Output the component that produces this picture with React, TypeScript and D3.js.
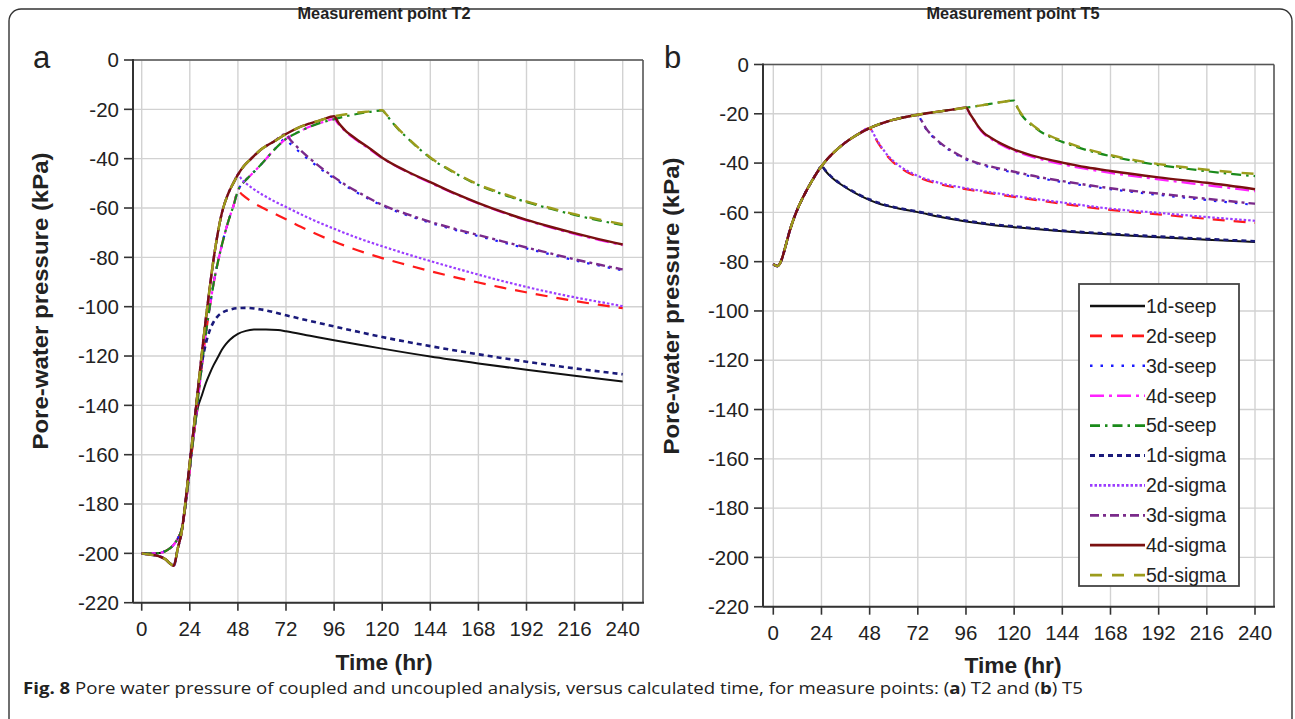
import React from "react";
import * as d3 from "d3";

type Pt = [number, number];

// ---------- axis ticks ----------
const X_TICKS = [0, 24, 48, 72, 96, 120, 144, 168, 192, 216, 240];
const Y_TICKS = [0, -20, -40, -60, -80, -100, -120, -140, -160, -180, -200, -220];

// ---------- T2 (panel a) ----------
const t2SeepRise: Pt[] = [[0,-200],[4,-200],[8,-200],[12,-199],[14,-198],[16,-196.5],[18,-194],[20,-190],[22,-180],[24,-166],[26,-152],[28,-138],[30,-124],[32,-111],[34,-100],[36,-90],[38,-82],[40,-75],[43,-66],[46,-58.5],[48,-53],[51,-49.5],[54,-47],[60,-42],[66,-36.5],[72,-32],[78,-29.3],[84,-27],[90,-25.3],[96,-24],[102,-22.8],[108,-21.8],[114,-21],[120,-20.4]];
const t2SigmaRise: Pt[] = [[0,-200],[4,-200.5],[8,-201],[12,-202.5],[14,-204],[16,-205],[18,-198],[20,-191],[22,-178],[24,-163],[26,-149],[28,-134],[30,-119],[32,-105],[34,-92],[36,-80],[38,-70],[40,-62],[43,-54.5],[46,-49.5],[48,-46.5],[51,-43],[54,-40.5],[60,-36],[66,-33],[72,-30],[78,-27.5],[84,-25.7],[90,-24.2],[96,-22.8],[102,-22],[108,-21.3],[114,-20.8],[120,-20.3]];
const t2Seep1d: Pt[] = [[28,-141],[30,-136],[32,-131],[34,-127],[36,-123.5],[38,-120.5],[40,-117.5],[42,-115.2],[44,-113.4],[48,-111],[52,-109.8],[56,-109.3],[62,-109.2],[68,-109.5],[72,-110],[84,-111.8],[96,-113.6],[108,-115.3],[120,-117],[144,-120.2],[168,-123],[192,-125.6],[216,-128],[240,-130.3]];
const t2Sigma1d: Pt[] = [[28,-134],[30,-123],[32,-115],[34,-109.5],[36,-106],[38,-103.8],[40,-102.5],[44,-101.2],[48,-100.6],[52,-100.5],[60,-101.2],[72,-103.5],[84,-105.8],[96,-108],[108,-110.2],[120,-112.3],[144,-116],[168,-119.3],[192,-122.3],[216,-125],[240,-127.4]];
const t2Seep2d: Pt[] = [[50,-54.5],[54,-57],[60,-59.8],[66,-62.2],[72,-64.6],[84,-69.4],[96,-73.6],[108,-77.2],[120,-80.3],[132,-83],[144,-85.6],[156,-88],[168,-90.2],[180,-92.3],[192,-94.2],[204,-96],[216,-97.7],[228,-99.2],[240,-100.6]];
const t2Sigma2d: Pt[] = [[50,-48.5],[54,-51.2],[60,-54.5],[66,-57.2],[72,-59.6],[84,-64.3],[96,-68.4],[108,-72.2],[120,-75.5],[132,-78.6],[144,-81.5],[156,-84.3],[168,-87],[180,-89.6],[192,-92],[204,-94.2],[216,-96.2],[228,-98],[240,-99.8]];
const t2Seep3d: Pt[] = [[74,-33.8],[78,-36.8],[84,-40.8],[90,-44.6],[96,-48],[102,-51.2],[108,-54],[120,-59],[132,-62.8],[144,-66],[156,-68.8],[168,-71.4],[180,-73.9],[192,-76.4],[204,-78.8],[216,-81.2],[228,-83.3],[240,-85.3]];
const t2Sigma3d: Pt[] = [[74,-32.2],[78,-35.6],[84,-40],[90,-44],[96,-47.5],[102,-50.8],[108,-53.6],[120,-58.7],[132,-62.4],[144,-65.6],[156,-68.4],[168,-71],[180,-73.5],[192,-76],[204,-78.4],[216,-80.8],[228,-82.9],[240,-84.9]];
const t2Seep4d: Pt[] = [[98,-25.8],[100,-27.6],[102,-29.2],[105,-31.2],[108,-33],[114,-36.3],[120,-39.8],[132,-45.2],[144,-49.8],[156,-54.2],[168,-58.2],[180,-61.8],[192,-65],[204,-67.9],[216,-70.5],[228,-72.9],[240,-75.1]];
const t2Sigma4d: Pt[] = [[98,-25.2],[100,-27.2],[102,-28.9],[105,-30.8],[108,-32.6],[114,-36],[120,-39.6],[132,-45],[144,-49.5],[156,-54],[168,-58],[180,-61.6],[192,-64.8],[204,-67.6],[216,-70.2],[228,-72.6],[240,-74.8]];
const t2Seep5d: Pt[] = [[122,-22.2],[124,-24.2],[127,-27.2],[132,-31.2],[138,-35.7],[144,-39.7],[156,-45.7],[168,-50.7],[180,-54.4],[192,-57.6],[204,-60.3],[216,-62.8],[228,-65],[240,-67]];
const t2Sigma5d: Pt[] = [[122,-22],[124,-24],[127,-27],[132,-31],[138,-35.5],[144,-39.5],[156,-45.5],[168,-50.5],[180,-54.1],[192,-57.3],[204,-60],[216,-62.5],[228,-64.6],[240,-66.6]];

// ---------- T5 (panel b) ----------
const t5Rise: Pt[] = [[0,-81],[2,-81.8],[4,-79.5],[6,-74],[8,-68],[10,-63],[12,-58.8],[14,-55.2],[16,-52],[18,-49],[20,-46.2],[22,-43.6],[24,-41.3],[27,-38.3],[30,-35.8],[36,-31.6],[42,-28.4],[48,-25.8],[54,-23.9],[60,-22.4],[66,-21.3],[72,-20.4],[78,-19.6],[84,-18.9],[90,-18.2],[96,-17.5],[102,-16.8],[108,-16],[114,-15.2],[120,-14.6]];
const t5Seep1d: Pt[] = [[26,-43.2],[28,-45],[30,-46.5],[33,-48.3],[36,-49.9],[42,-52.7],[48,-55],[54,-56.8],[60,-58],[72,-59.9],[84,-62],[96,-63.7],[108,-65],[120,-66],[144,-67.7],[168,-69],[192,-70.1],[216,-71.1],[240,-72]];
const t5Sigma1d: Pt[] = [[26,-43],[28,-44.8],[30,-46.3],[33,-48.1],[36,-49.7],[42,-52.5],[48,-54.8],[54,-56.5],[60,-57.8],[72,-59.7],[84,-61.7],[96,-63.4],[108,-64.7],[120,-65.7],[144,-67.4],[168,-68.7],[192,-69.8],[216,-70.8],[240,-71.7]];
const t5Seep2d: Pt[] = [[50,-28.5],[52,-31.5],[54,-34],[57,-37.3],[60,-39.8],[66,-43.3],[72,-45.7],[84,-48.8],[96,-50.6],[108,-52.2],[120,-53.7],[144,-56.5],[168,-59],[192,-60.8],[216,-62.6],[240,-64.3]];
const t5Sigma2d: Pt[] = [[50,-28.2],[52,-31.2],[54,-33.6],[57,-36.9],[60,-39.3],[66,-42.8],[72,-45.2],[84,-48.3],[96,-50.2],[108,-51.8],[120,-53.3],[144,-56],[168,-58.5],[192,-60.2],[216,-61.9],[240,-63.4]];
const t5Seep3d: Pt[] = [[74,-23.2],[76,-26],[80,-29.8],[84,-32.6],[90,-35.9],[96,-38.5],[102,-40.3],[108,-41.7],[120,-43.9],[132,-46],[144,-47.7],[168,-50.6],[192,-52.9],[216,-55],[240,-57]];
const t5Sigma3d: Pt[] = [[74,-23],[76,-25.8],[80,-29.5],[84,-32.3],[90,-35.6],[96,-38.2],[102,-40],[108,-41.3],[120,-43.5],[132,-45.6],[144,-47.3],[168,-50.2],[192,-52.4],[216,-54.5],[240,-56.5]];
const t5Seep4d: Pt[] = [[98,-20.3],[100,-22.8],[102,-25.3],[105,-28.2],[108,-30],[114,-32.8],[120,-35],[132,-38.2],[144,-40.5],[156,-42.4],[168,-44],[192,-46.6],[216,-49],[240,-51.4]];
const t5Sigma4d: Pt[] = [[98,-20],[100,-22.5],[102,-25],[105,-27.8],[108,-29.5],[114,-32.3],[120,-34.5],[132,-37.6],[144,-39.8],[156,-41.7],[168,-43.2],[192,-45.8],[216,-48],[240,-50.6]];
const t5Seep5d: Pt[] = [[122,-18.3],[124,-20.8],[127,-23.4],[132,-26.6],[138,-29.4],[144,-31.4],[156,-34.7],[168,-37.2],[180,-39.2],[192,-40.8],[204,-42.1],[216,-43.3],[228,-44.4],[240,-45.3]];
const t5Sigma5d: Pt[] = [[122,-18],[124,-20.5],[127,-23],[132,-26.3],[138,-29],[144,-31],[156,-34.3],[168,-36.8],[180,-38.8],[192,-40.4],[204,-41.6],[216,-42.7],[228,-43.6],[240,-44.4]];

// ---------- series styling ----------
const SERIES_NAMES = ["1d-seep","2d-seep","3d-seep","4d-seep","5d-seep","1d-sigma","2d-sigma","3d-sigma","4d-sigma","5d-sigma"];
const SERIES_COLORS = ["#111111","#ff1a1a","#1a1aff","#ff22ff","#1a8a1a","#1a1a7a","#9b3cff","#7a2a8a","#7a1010","#9c9c1c"];
const SERIES_DASH = ["", "12,9", "2.5,8", "14,5,3,5", "10,5,2.5,5", "5,4", "2.5,2", "9,4,3,4", "", "12,10"];
const SERIES_WIDTH = [2, 2.2, 2.2, 2.2, 2.2, 2.6, 2.2, 2.4, 2.4, 2.4];
const RAIN_END = [24, 48, 72, 96, 120];

const upTo = (arr: Pt[], t: number) => arr.filter(d => d[0] <= t);

const T2_DATA: Pt[][] = [
  [...upTo(t2SeepRise, 26), ...t2Seep1d],
  [...upTo(t2SeepRise, RAIN_END[1]), ...t2Seep2d],
  [...upTo(t2SeepRise, RAIN_END[2]), ...t2Seep3d],
  [...upTo(t2SeepRise, RAIN_END[3]), ...t2Seep4d],
  [...upTo(t2SeepRise, RAIN_END[4]), ...t2Seep5d],
  [...upTo(t2SigmaRise, 26), ...t2Sigma1d],
  [...upTo(t2SigmaRise, RAIN_END[1]), ...t2Sigma2d],
  [...upTo(t2SigmaRise, RAIN_END[2]), ...t2Sigma3d],
  [...upTo(t2SigmaRise, RAIN_END[3]), ...t2Sigma4d],
  [...upTo(t2SigmaRise, RAIN_END[4]), ...t2Sigma5d],
];
const T5_DATA: Pt[][] = [
  [...upTo(t5Rise, RAIN_END[0]), ...t5Seep1d],
  [...upTo(t5Rise, RAIN_END[1]), ...t5Seep2d],
  [...upTo(t5Rise, RAIN_END[2]), ...t5Seep3d],
  [...upTo(t5Rise, RAIN_END[3]), ...t5Seep4d],
  [...upTo(t5Rise, RAIN_END[4]), ...t5Seep5d],
  [...upTo(t5Rise, RAIN_END[0]), ...t5Sigma1d],
  [...upTo(t5Rise, RAIN_END[1]), ...t5Sigma2d],
  [...upTo(t5Rise, RAIN_END[2]), ...t5Sigma3d],
  [...upTo(t5Rise, RAIN_END[3]), ...t5Sigma4d],
  [...upTo(t5Rise, RAIN_END[4]), ...t5Sigma5d],
];

const FONT = "'Liberation Sans', Arial, Helvetica, sans-serif";

type PanelCfg = {
  id: string; letter: string; title: string; data: Pt[][];
  x0: number; x240: number; left: number; right: number; top: number; bottom: number;
  letterX: number; titleX: number; yTitleX: number; yTitleY: number; xTitleY: number;
  legend?: boolean;
};

function Panel({ cfg }: { cfg: PanelCfg }) {
  const x = d3.scaleLinear().domain([0, 240]).range([cfg.x0, cfg.x240]);
  const y = d3.scaleLinear().domain([0, -220]).range([cfg.top, cfg.bottom]);
  const line = d3.line<Pt>().x(d => x(d[0])).y(d => y(d[1])).curve(d3.curveMonotoneX);
  const clipId = "clip-" + cfg.id;
  const lg = { x: 1079, y: 284, w: 160, h: 302, row0: 306, step: 29.9 };
  return (
    <g>
      <defs>
        <clipPath id={clipId}>
          <rect x={cfg.left} y={cfg.top} width={cfg.right - cfg.left} height={cfg.bottom - cfg.top} />
        </clipPath>
      </defs>
      {X_TICKS.map(t => (
        <line key={"gx" + t} x1={x(t)} x2={x(t)} y1={cfg.top} y2={cfg.bottom} stroke="#d2d2d2" strokeWidth={1.4} />
      ))}
      {Y_TICKS.map(v => (
        <line key={"gy" + v} x1={cfg.left} x2={cfg.right} y1={y(v)} y2={y(v)} stroke="#d2d2d2" strokeWidth={1.4} />
      ))}
      <line x1={cfg.left} x2={cfg.right} y1={cfg.top} y2={cfg.top} stroke="#555" strokeWidth={1.6} />
      <line x1={cfg.right} x2={cfg.right} y1={cfg.top} y2={cfg.bottom} stroke="#555" strokeWidth={1.6} />
      <g clipPath={`url(#${clipId})`}>
        {cfg.data.map((d, i) => (
          <path key={SERIES_NAMES[i]} d={line(d) || ""} fill="none" stroke={SERIES_COLORS[i]}
            strokeWidth={SERIES_WIDTH[i]} strokeDasharray={SERIES_DASH[i] || undefined} />
        ))}
      </g>
      <line x1={cfg.left} x2={cfg.left} y1={cfg.top - 1} y2={cfg.bottom} stroke="#333" strokeWidth={2} />
      <line x1={cfg.left} x2={cfg.right + 1} y1={cfg.bottom} y2={cfg.bottom} stroke="#333" strokeWidth={2} />
      {Y_TICKS.map(v => (
        <g key={"ty" + v}>
          <line x1={cfg.left - 9} x2={cfg.left} y1={y(v)} y2={y(v)} stroke="#333" strokeWidth={1.6} />
          <text x={cfg.left - 14} y={y(v)} dy="0.35em" textAnchor="end" fontSize={20.5} fill="#222" fontFamily={FONT}>{v}</text>
        </g>
      ))}
      {X_TICKS.map(t => (
        <g key={"tx" + t}>
          <line x1={x(t)} x2={x(t)} y1={cfg.bottom} y2={cfg.bottom + 8} stroke="#333" strokeWidth={1.6} />
          <text x={x(t)} y={cfg.bottom + 33} textAnchor="middle" fontSize={20.5} fill="#222" fontFamily={FONT}>{t}</text>
        </g>
      ))}
      <text x={cfg.titleX} y={19} textAnchor="middle" fontSize={17} fontWeight="bold" fill="#222" fontFamily={FONT}
        textLength={173} lengthAdjust="spacingAndGlyphs">{cfg.title}</text>
      <text x={cfg.titleX} y={cfg.xTitleY} textAnchor="middle" fontSize={22} fontWeight="bold" fill="#222" fontFamily={FONT}
        textLength={97} lengthAdjust="spacingAndGlyphs">Time (hr)</text>
      <text transform={`translate(${cfg.yTitleX},${cfg.yTitleY}) rotate(-90)`} textAnchor="middle" dy="0.36em" fontSize={21.5}
        fontWeight="bold" fill="#222" fontFamily={FONT} textLength={297} lengthAdjust="spacingAndGlyphs">Pore-water pressure (kPa)</text>
      <text x={cfg.letterX} y={68} fontSize={31} fill="#222" fontFamily={FONT}>{cfg.letter}</text>
      {cfg.legend && (
        <g>
          <rect x={lg.x} y={lg.y} width={lg.w} height={lg.h} fill="#fff" stroke="#444" strokeWidth={1.8} />
          {SERIES_NAMES.map((n, i) => {
            const yy = lg.row0 + i * lg.step;
            return (
              <g key={"lg" + n}>
                <line x1={1090} x2={1145} y1={yy} y2={yy} stroke={SERIES_COLORS[i]} strokeWidth={SERIES_WIDTH[i] + 0.4}
                  strokeDasharray={SERIES_DASH[i] || undefined} />
                <text x={1146} y={yy} dy="0.35em" fontSize={19.5} fill="#222" fontFamily={FONT}>{n}</text>
              </g>
            );
          })}
        </g>
      )}
    </g>
  );
}

const PANELS: PanelCfg[] = [
  { id: "a", letter: "a", title: "Measurement point T2", data: T2_DATA,
    x0: 141.7, x240: 622.7, left: 133, right: 643, top: 60, bottom: 602.7,
    letterX: 33, titleX: 384, yTitleX: 40, yTitleY: 301, xTitleY: 670 },
  { id: "b", letter: "b", title: "Measurement point T5", data: T5_DATA,
    x0: 773.3, x240: 1255, left: 763, right: 1274, top: 64.5, bottom: 606.7,
    letterX: 664, titleX: 1013, yTitleX: 671, yTitleY: 306, xTitleY: 673, legend: true },
];

export default function App() {
  return (
    <svg width={1295} height={719} style={{ position: "absolute", left: 0, top: 0, background: "#fff" }}>
      <rect x={0} y={0} width={1295} height={719} fill="#fff" />
      <rect x={9} y={9} width={1283} height={740} rx={12} ry={12} fill="none" stroke="#333" strokeWidth={1.4} />
      {PANELS.map(p => <Panel key={p.id} cfg={p} />)}
      <text x={23} y={694} fontSize={16} fill="#222" fontFamily="'Open Sans', 'Noto Sans', sans-serif"
        textLength={1060} lengthAdjust="spacingAndGlyphs">
        <tspan fontWeight="bold">Fig. 8</tspan>
        <tspan> Pore water pressure of coupled and uncoupled analysis, versus calculated time, for measure points: (</tspan>
        <tspan fontWeight="bold">a</tspan>
        <tspan>) T2 and (</tspan>
        <tspan fontWeight="bold">b</tspan>
        <tspan>) T5</tspan>
      </text>
    </svg>
  );
}
